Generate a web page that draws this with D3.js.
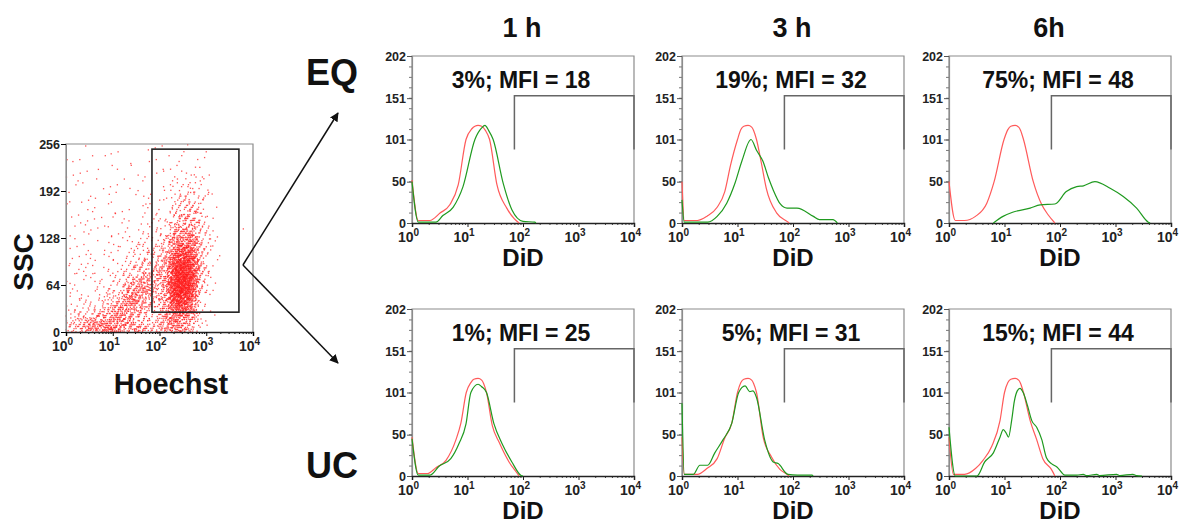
<!DOCTYPE html>
<html><head><meta charset="utf-8">
<script src="https://cdn.jsdelivr.net/npm/d3@7"></script>
<style>
body{margin:0;background:#fff}
svg{display:block;font-family:"Liberation Sans",Arial,sans-serif;font-weight:bold}
</style>
</head><body>
<svg id="c" width="1183" height="525"></svg>
<script>
// ---------- data ----------
const timeLabels = ["1 h", "3 h", "6h"];
const groupLabels = ["EQ", "UC"];
const gateStats = ["3%; MFI = 18", "19%; MFI = 32", "75%; MFI = 48",
                   "1%; MFI = 25", "5%; MFI = 31", "15%; MFI = 44"];
const yTickValues = [0, 50, 101, 151, 202];
const xTickExponents = [0, 1, 2, 3, 4];
const sscTickValues = [0, 64, 128, 192, 256];
const histGate = [70, 10000, 89, 154];        // DiD low, high, count bottom, count top
const scatterGate = [69, 5000, 27, 249];      // Hoechst low, high, SSC low, high

// [DiD, count] — red = control, green = treated
const eq1hRed   = [[1,52],[1.3,3],[2.1,3],[3.2,12],[4.8,22],[6.8,46],[9.4,101],[12,114],[13.6,117],[15.5,118],[18,117],[21,112],[25,101],[34,46],[51,18],[70,5],[85,0]];
const eq1hGreen = [[1,50],[1.3,1],[2.7,1],[3.6,9],[5.5,19],[8.3,44],[13.6,101],[18,115],[20.6,118],[24,112],[29,101],[44,48],[63,16],[100,2],[163,1],[170,0]];
const eq3hRed   = [[1,50],[1.1,3],[1.9,3],[2.8,8],[4.3,19],[5.9,38],[7.5,70],[10,101],[11.5,113],[13,117],[15.5,118],[18,116],[19.5,112],[22,101],[27,72],[33,42],[51,12],[78,2],[85,0]];
const eq3hGreen = [[1,28],[1.1,1],[2.9,1],[4.3,8],[6.4,24],[9,48],[12,75],[17.5,101],[22,88],[29,74],[36,55],[44,40],[59,23],[78,18],[118,18],[233,8],[300,4],[525,4],[630,0]];
const eq6hRed   = [[1,50],[1.3,3],[1.9,3],[3,8],[4.8,24],[6.5,50],[9.8,101],[11.5,113],[13,117],[15.5,118],[18,116],[19.5,112],[22,101],[33,50],[47,22],[61,10],[81,0]];
const eq6hGreen = [[6.3,0],[9.4,8],[14,13],[29,18],[44,22],[81,23],[130,38],[200,44],[265,45],[425,50],[800,42],[1380,32],[2400,18],[3900,1],[4200,0]];
const uc1hRed   = [[1,47],[1.3,3],[1.9,3],[2.7,10],[4.1,19],[6.2,44],[7.6,64],[9.5,101],[11.5,113],[13,117],[15.5,118],[18,116],[19.5,112],[22,101],[28,61],[37,41],[56,17],[79,3],[85,0]];
const uc1hGreen = [[1,45],[1.3,1],[2.1,1],[3.1,12],[5,21],[7,39],[9.4,63],[11.5,101],[15.5,111],[18,108],[22,101],[30,63],[42,39],[63,17],[91,1],[100,0]];
const uc3hRed   = [[1,47],[1.1,2],[1.9,2],[2.8,9],[4.3,21],[5.9,46],[7.9,64],[10,101],[11.5,113],[13,117],[15.5,118],[18,116],[19.5,112],[22,101],[29,47],[41,23],[58,8],[78,2],[85,0]];
const uc3hGreen = [[1,88],[1.1,2],[1.6,2],[2.1,13],[2.9,13],[3.9,28],[5.5,44],[7.9,64],[10.5,101],[13.7,109],[16.6,102],[19,103],[22,95],[31,43],[44,17],[54,15],[81,2],[120,1],[220,1],[230,0]];
const uc6hRed   = [[1,47],[1.2,2],[1.9,2],[3,9],[4.1,19],[5.9,36],[8.3,67],[10,101],[11.5,113],[13,117],[15.5,118],[18,116],[19.5,112],[22,101],[29,67],[38,44],[49,21],[70,8],[81,0]];
const uc6hGreen = [[1,59],[1.3,0],[3.2,0],[4.4,17],[6.3,28],[8.3,47],[9.5,56],[10.7,52],[11.8,47],[13.5,68],[15,90],[17,103],[19,106],[22,100],[26,85],[31,67],[38,59],[47,44],[57,22],[70,15],[88,11],[123,1],[200,1],[263,2],[300,0.5],[460,2],[520,0.5],[1050,2],[1200,0.5],[2050,2],[2400,0.5],[3000,0]];

// Hoechst (log10, 0.25-decade columns 0..4) x SSC (16-unit rows), event counts; top row = SSC 240-256
const sscDensity = [
  [1,1,1,1,1,0,1,1,1,1,1,1,0,0,0,0],
  [1,1,1,1,1,1,1,1,1,2,3,2,0,0,0,0],
  [2,1,1,1,1,1,1,1,1,2,4,4,0,0,0,0],
  [1,2,1,2,1,1,2,1,2,4,8,6,1,0,0,0],
  [2,1,2,1,2,1,2,2,3,8,15,8,1,0,0,0],
  [2,2,1,2,1,2,2,2,4,14,22,10,1,0,0,0],
  [2,2,2,2,2,2,3,3,6,22,35,14,2,0,0,0],
  [2,2,2,2,2,3,4,6,10,40,55,18,2,0,1,0],
  [2,2,2,2,3,4,8,10,16,70,90,22,3,1,0,0],
  [2,2,3,3,3,6,12,16,25,120,140,25,3,1,0,0],
  [3,3,3,3,5,10,22,25,35,170,180,25,2,0,0,0],
  [3,3,3,4,8,20,42,35,40,200,190,20,2,0,0,0],
  [3,3,4,6,16,42,60,25,40,210,170,14,1,0,0,0],
  [4,5,7,12,40,62,40,16,35,160,110,8,1,0,0,0],
  [10,14,22,36,52,40,22,14,30,90,60,5,1,0,0,0],
  [18,40,58,66,60,42,30,22,40,60,35,5,0,0,0,0]
];

const panelRed   = [eq1hRed, eq3hRed, eq6hRed, uc1hRed, uc3hRed, uc6hRed];
const panelGreen = [eq1hGreen, eq3hGreen, eq6hGreen, uc1hGreen, uc3hGreen, uc6hGreen];

// ---------- drawing ----------
const svg = d3.select("#c");
const font = "Liberation Sans, Arial, sans-serif";

function powLabel(sel, base, exp) {
  sel.text(null);
  sel.append("tspan").text(base);
  sel.append("tspan").attr("dy", -6).attr("font-size", 10).text(exp);
}

// Histogram panels
const colX = [412, 682, 949], rowY = [56, 309], pw = 222, ph = 167;
const hx = d3.scaleLog().domain([1, 1e4]).range([0, pw]);
const hy = d3.scaleLinear().domain([0, 202]).range([ph, 0]);
const minorX = [];
for (let e = 0; e < 4; e++) for (let m = 2; m <= 9; m++) minorX.push(m * Math.pow(10, e));
const minorY = d3.range(0, 203, 202 / 16);

const line = d3.line().x(d => hx(d[0])).y(d => hy(d[1])).curve(d3.curveMonotoneX);

panelRed.forEach((red, i) => {
  const r = Math.floor(i / 3), c = i % 3;
  const g = svg.append("g").attr("transform", `translate(${colX[c]},${rowY[r]})`);

  g.append("path").attr("d", `M0,${ph}V0H${pw}V${ph}`).attr("fill", "none")
    .attr("stroke", "#8c8c8c").attr("stroke-width", 1.2);

  g.append("g").call(d3.axisLeft(hy).tickValues(minorY).tickSize(3).tickFormat(""))
    .call(a => a.select(".domain").remove())
    .selectAll("line").attr("stroke", "#777");
  const ya = g.append("g").call(d3.axisLeft(hy).tickValues(yTickValues).tickSize(5).tickPadding(1));
  ya.select(".domain").attr("stroke", "#8c8c8c").attr("stroke-width", 1.2);
  ya.selectAll("line").attr("stroke", "#555");
  ya.selectAll("text").attr("font-family", font).attr("font-weight", "bold")
    .attr("font-size", 12.5).attr("fill", "#222");

  g.append("g").attr("transform", `translate(0,${ph})`)
    .call(d3.axisBottom(hx).tickValues(minorX).tickSize(2).tickFormat(""))
    .call(a => a.select(".domain").remove())
    .selectAll("line").attr("stroke", "#444");
  const xa = g.append("g").attr("transform", `translate(0,${ph})`)
    .call(d3.axisBottom(hx).tickValues(xTickExponents.map(e => Math.pow(10, e))).tickSize(4).tickFormat(""));
  xa.select(".domain").attr("stroke", "#222").attr("stroke-width", 1.5);
  xa.selectAll("line").attr("stroke", "#222");
  xa.selectAll(".tick").append("text")
    .attr("x", -4).attr("y", 19).attr("text-anchor", "middle")
    .attr("font-family", font).attr("font-weight", "bold").attr("font-size", 14).attr("fill", "#222")
    .each(function (d) { powLabel(d3.select(this), "10", Math.round(Math.log10(d))); });

  const [gl, gh, gb, gt] = histGate;
  g.append("path")
    .attr("d", `M${hx(gl)},${hy(gb)}V${hy(gt)}H${hx(gh)}V${hy(gb)}`)
    .attr("fill", "none").attr("stroke", "#666").attr("stroke-width", 1.5);

  g.append("path").datum(red).attr("d", line).attr("fill", "none")
    .attr("stroke", "#ff5a5a").attr("stroke-width", 1.2);
  g.append("path").datum(panelGreen[i]).attr("d", line).attr("fill", "none")
    .attr("stroke", "#1f9a1f").attr("stroke-width", 1.2);

  g.append("text").attr("x", pw / 2 - 2).attr("y", 32).attr("text-anchor", "middle")
    .attr("font-size", 23).attr("fill", "#111").text(gateStats[i]);

  g.append("text").attr("x", pw / 2).attr("y", ph + 43).attr("text-anchor", "middle")
    .attr("font-size", 24).attr("fill", "#111").text("DiD");
});

const titleX = [522, 792, 1049];
timeLabels.forEach((t, i) => {
  svg.append("text").attr("x", titleX[i]).attr("y", 37).attr("text-anchor", "middle")
    .attr("font-size", 27).attr("fill", "#111").text(t);
});
svg.append("text").attr("x", 306).attr("y", 85).attr("font-size", 36).attr("fill", "#111").text(groupLabels[0]);
svg.append("text").attr("x", 306).attr("y", 478).attr("font-size", 36).attr("fill", "#111").text(groupLabels[1]);

// ---------- dot plot ----------
const sx0 = 66, sx1 = 253, sy0 = 144, sy1 = 332;
const sx = d3.scaleLog().domain([1, 1e4]).range([sx0, sx1]);
const sy = d3.scaleLinear().domain([0, 256]).range([sy1, sy0]);

// low-discrepancy (R4) placement of each cell's events, with a tent-shaped spread so cells blend smoothly
const gR = 1.1673039782614187;
const aR = [1 / gR, 1 / (gR * gR), 1 / (gR * gR * gR), 1 / (gR * gR * gR * gR)];
const frac = v => v - Math.floor(v);
const dots = [];
let k = 1;
const nRows = sscDensity.length;
sscDensity.forEach((row, ri) => {
  const yLow = (nRows - 1 - ri) * 16;
  row.forEach((n, ci) => {
    for (let j = 0; j < n; j++, k++) {
      const u = aR.map(a => frac(0.5 + a * k));
      let lx = (ci + u[0] + u[1] - 0.5) * 0.25;
      let yy = yLow + (u[2] + u[3] - 0.5) * 16;
      lx = Math.abs(lx); yy = Math.min(255, Math.abs(yy));
      dots.push([Math.pow(10, lx), yy]);
    }
  });
});
const sg = svg.append("g");
sg.selectAll("rect.d").data(dots).join("rect").attr("class", "d")
  .attr("x", d => sx(d[0]) - 0.6).attr("y", d => sy(d[1]) - 0.6)
  .attr("width", 1.3).attr("height", 1.3).attr("fill", "#ff1a1a").attr("opacity", 0.75);

sg.append("path").attr("d", `M${sx0},${sy1}V${sy0}H${sx1}V${sy1}`).attr("fill", "none")
  .attr("stroke", "#8c8c8c").attr("stroke-width", 1.2);
const sya = sg.append("g").attr("transform", `translate(${sx0},0)`)
  .call(d3.axisLeft(sy).tickValues(sscTickValues).tickSize(5).tickPadding(1));
sya.select(".domain").attr("stroke", "#8c8c8c");
sya.selectAll("text").attr("font-family", font).attr("font-weight", "bold").attr("font-size", 12.5).attr("fill", "#222");
sg.append("g").attr("transform", `translate(0,${sy1})`)
  .call(d3.axisBottom(sx).tickValues(minorX).tickSize(2).tickFormat(""))
  .call(a => a.select(".domain").remove());
const sxa = sg.append("g").attr("transform", `translate(0,${sy1})`)
  .call(d3.axisBottom(sx).tickValues(xTickExponents.map(e => Math.pow(10, e))).tickSize(4).tickFormat(""));
sxa.select(".domain").attr("stroke", "#222").attr("stroke-width", 1.5);
sxa.selectAll(".tick").append("text")
  .attr("x", -4).attr("y", 19).attr("text-anchor", "middle")
  .attr("font-family", font).attr("font-weight", "bold").attr("font-size", 14).attr("fill", "#222")
  .each(function (d) { powLabel(d3.select(this), "10", Math.round(Math.log10(d))); });

sg.append("rect")
  .attr("x", sx(scatterGate[0])).attr("y", sy(scatterGate[3]))
  .attr("width", sx(scatterGate[1]) - sx(scatterGate[0]))
  .attr("height", sy(scatterGate[2]) - sy(scatterGate[3]))
  .attr("fill", "none").attr("stroke", "#222").attr("stroke-width", 1.6);

svg.append("text").attr("transform", "translate(33,262) rotate(-90)").attr("text-anchor", "middle")
  .attr("font-size", 28).attr("fill", "#111").text("SSC");
svg.append("text").attr("x", 171).attr("y", 394).attr("text-anchor", "middle")
  .attr("font-size", 29).attr("fill", "#111").text("Hoechst");

svg.append("defs").append("marker").attr("id", "ah").attr("viewBox", "0 0 10 10")
  .attr("refX", 9).attr("refY", 5).attr("markerWidth", 9).attr("markerHeight", 9)
  .attr("markerUnits", "userSpaceOnUse").attr("orient", "auto")
  .append("path").attr("d", "M0,0L10,5L0,10z").attr("fill", "#111");
const ox = sx(scatterGate[1]) + 4, oy = 265;
svg.append("line").attr("x1", ox).attr("y1", oy).attr("x2", 338).attr("y2", 113)
  .attr("stroke", "#111").attr("stroke-width", 1.5).attr("marker-end", "url(#ah)");
svg.append("line").attr("x1", ox).attr("y1", oy).attr("x2", 338).attr("y2", 363)
  .attr("stroke", "#111").attr("stroke-width", 1.5).attr("marker-end", "url(#ah)");
</script>
</body></html>
